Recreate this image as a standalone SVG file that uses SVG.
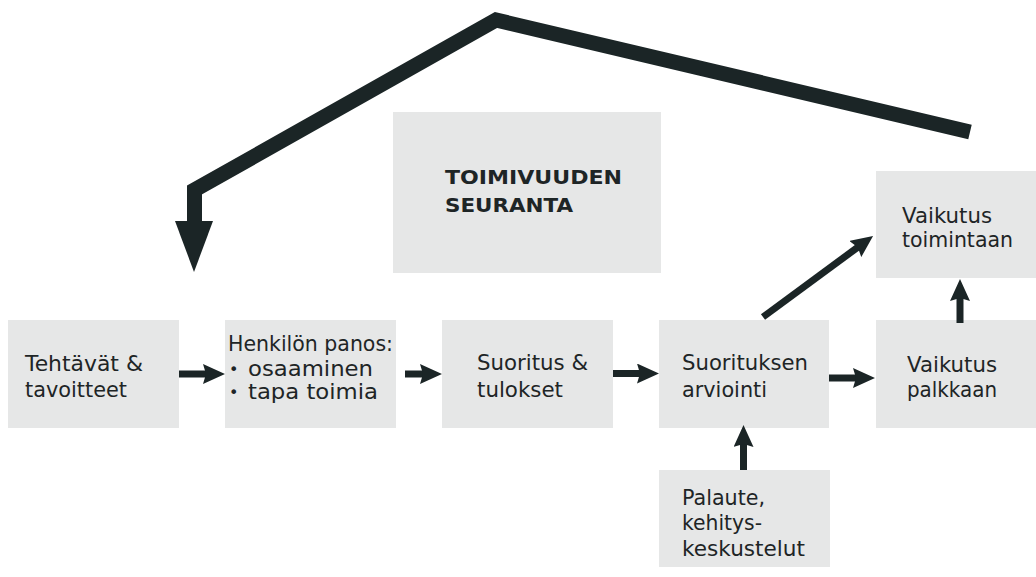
<svg xmlns="http://www.w3.org/2000/svg" width="1036" height="577" viewBox="0 0 1036 577">
<style>
.box{fill:#e6e7e7}
.t{font-family:"DejaVu Sans","Liberation Sans",sans-serif;font-size:21px;fill:#1e2526}
.bl{font-family:"DejaVu Sans","Liberation Sans",sans-serif;font-size:16px;fill:#1e2526}
.b{font-family:"DejaVu Sans","Liberation Sans",sans-serif;font-size:20px;font-weight:bold;fill:#1e2526}
.ar{stroke:#1b2526;stroke-width:7;fill:none;marker-end:url(#ah)}
</style>
<defs>
<marker id="ah" markerUnits="userSpaceOnUse" markerWidth="22" markerHeight="20" refX="10" refY="10" orient="auto" viewBox="0 0 22 20">
<path d="M0,0 L22,10 L0,20 L3,10 z" fill="#1b2526"/>
</marker>
</defs>
<rect width="1036" height="577" fill="#ffffff"/>
<g id="node-seuranta">
<rect class="box" x="393" y="112" width="268" height="161"/>
<text class="b" x="445" y="184" textLength="177" lengthAdjust="spacingAndGlyphs">TOIMIVUUDEN</text>
<text class="b" x="445" y="212" textLength="128" lengthAdjust="spacingAndGlyphs">SEURANTA</text>
</g>
<g id="node-tehtavat">
<rect class="box" x="8" y="320" width="171" height="108"/>
<text class="t" x="25" y="371" textLength="118" lengthAdjust="spacingAndGlyphs">Tehtävät &amp;</text>
<text class="t" x="25" y="397" textLength="102" lengthAdjust="spacingAndGlyphs">tavoitteet</text>
</g>
<g id="node-panos">
<rect class="box" x="225" y="320" width="171" height="108"/>
<text class="t" x="228" y="351" textLength="165" lengthAdjust="spacingAndGlyphs">Henkilön panos:</text>
<text class="bl" x="229" y="375">•</text>
<text class="t" x="248" y="376" textLength="125" lengthAdjust="spacingAndGlyphs">osaaminen</text>
<text class="bl" x="229" y="398">•</text>
<text class="t" x="248" y="399" textLength="130" lengthAdjust="spacingAndGlyphs">tapa toimia</text>
</g>
<g id="node-suoritus">
<rect class="box" x="442" y="320" width="171" height="108"/>
<text class="t" x="477" y="370" textLength="111" lengthAdjust="spacingAndGlyphs">Suoritus &amp;</text>
<text class="t" x="477" y="397" textLength="86" lengthAdjust="spacingAndGlyphs">tulokset</text>
</g>
<g id="node-arviointi">
<rect class="box" x="659" y="320" width="170" height="108"/>
<text class="t" x="682" y="370" textLength="126" lengthAdjust="spacingAndGlyphs">Suorituksen</text>
<text class="t" x="682" y="397" textLength="85" lengthAdjust="spacingAndGlyphs">arviointi</text>
</g>
<g id="node-palkkaan">
<rect class="box" x="876" y="320" width="160" height="108"/>
<text class="t" x="907" y="372" textLength="90" lengthAdjust="spacingAndGlyphs">Vaikutus</text>
<text class="t" x="907" y="397" textLength="90" lengthAdjust="spacingAndGlyphs">palkkaan</text>
</g>
<g id="node-toimintaan">
<rect class="box" x="876" y="171" width="160" height="107"/>
<text class="t" x="902" y="223" textLength="90" lengthAdjust="spacingAndGlyphs">Vaikutus</text>
<text class="t" x="902" y="247" textLength="111" lengthAdjust="spacingAndGlyphs">toimintaan</text>
</g>
<g id="node-palaute">
<rect class="box" x="659" y="470" width="171" height="97"/>
<text class="t" x="682" y="505" textLength="83" lengthAdjust="spacingAndGlyphs">Palaute,</text>
<text class="t" x="682" y="530" textLength="80" lengthAdjust="spacingAndGlyphs">kehitys-</text>
<text class="t" x="682" y="556" textLength="123" lengthAdjust="spacingAndGlyphs">keskustelut</text>
</g>
<g id="connectors">
<path class="ar" d="M179,374 L213,374"/>
<path class="ar" d="M405,374 L430,374"/>
<path class="ar" d="M613,373.5 L647,373.5"/>
<path class="ar" d="M829,378 L863,378"/>
<path class="ar" d="M743.5,470 L743.5,437"/>
<path class="ar" d="M960,323 L960,291"/>
<path class="ar" d="M763,317 L863.4,243.1"/>
<polyline points="194.5,224 194.5,190 496,20 970,132" fill="none" stroke="#1b2526" stroke-width="15" stroke-linejoin="miter" stroke-miterlimit="10"/>
<polygon points="175,221 213,221 194,272" fill="#1b2526"/>
</g>
</svg>
